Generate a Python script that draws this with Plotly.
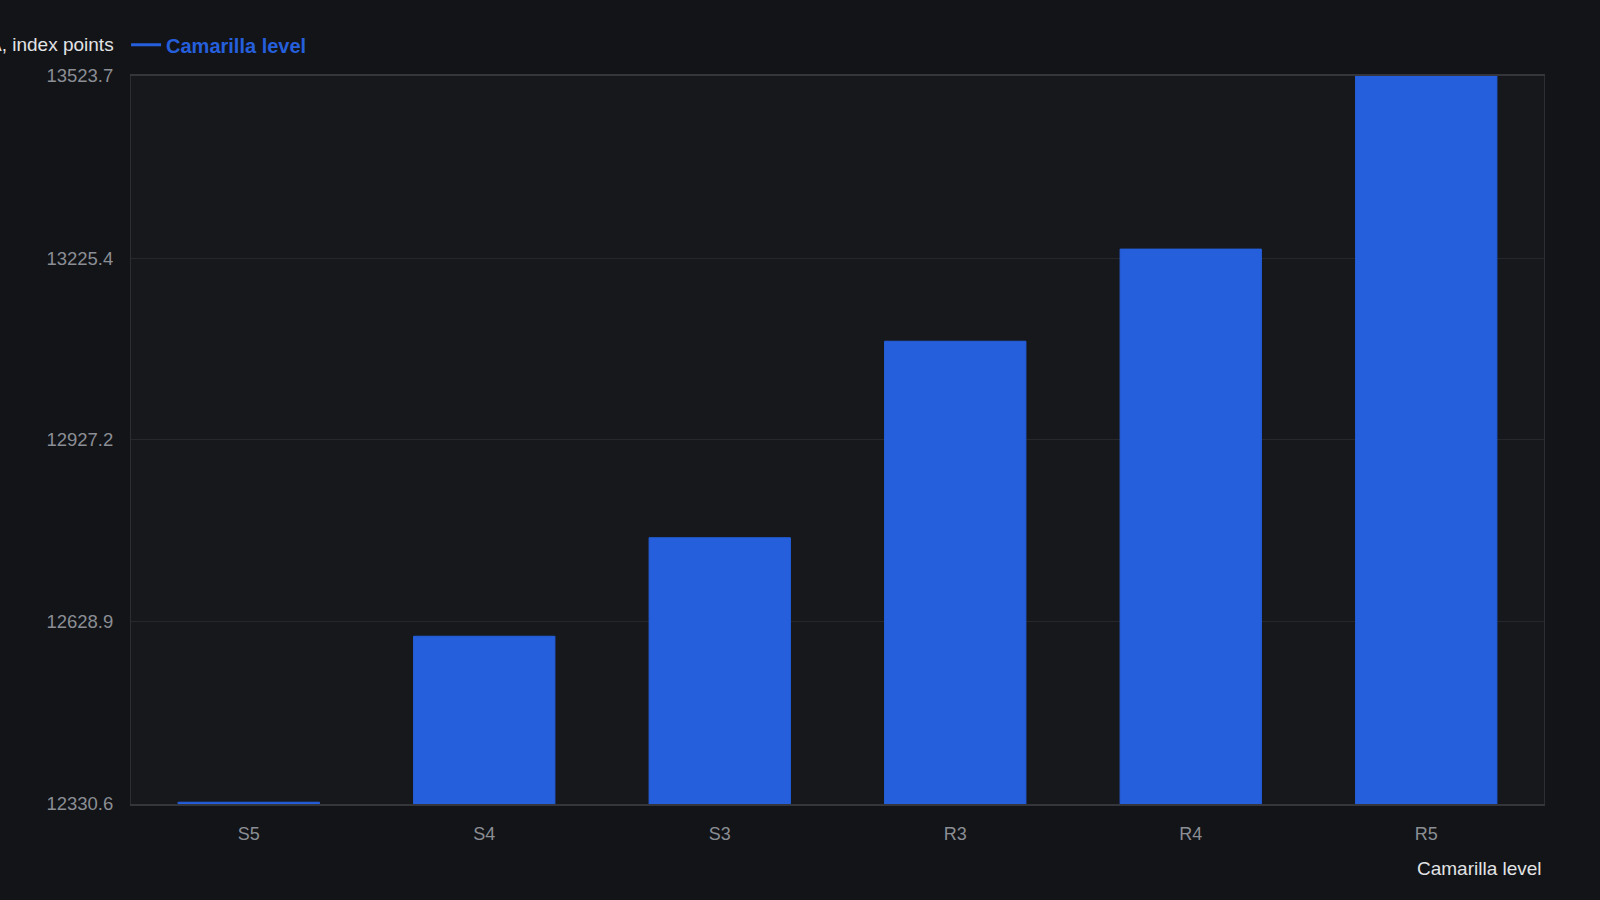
import plotly.graph_objects as go

categories = ["S5", "S4", "S3", "R3", "R4", "R5"]
values = [12333.5, 12605.5, 12767.0, 13089.0, 13240.0, 13523.7]
tick_vals = [12330.6, 12628.9, 12927.2, 13225.4, 13523.7]
tick_text = ["12330.6", "12628.9", "12927.2", "13225.4", "13523.7"]
series_name = "Camarilla level"
y_title = "Camarilla pivot levels, MSCI EMEA, index points"
x_title = "Camarilla level"

BLUE = "#255fdc"
FONT = "Liberation Sans, Arial, Helvetica, sans-serif"

fig = go.Figure()
fig.add_trace(go.Bar(
    x=categories, y=values,
    marker=dict(color=BLUE, line=dict(color=BLUE, width=1)),
    showlegend=False, width=0.6,
))
fig.add_trace(go.Scatter(
    x=[None], y=[None], mode="lines", name="<b>" + series_name + "</b>",
    line=dict(color=BLUE, width=3),
))

fig.update_layout(
    width=1600, height=900,
    paper_bgcolor="#121418",
    plot_bgcolor="#16181c",
    margin=dict(l=131, r=56, t=76, b=96),
    font=dict(family=FONT, size=18, color="#8b8e94"),
    showlegend=True,
    legend=dict(
        x=-0.0035, xanchor="left", y=1.016, yanchor="bottom",
        orientation="h", bgcolor="rgba(0,0,0,0)",
        font=dict(family=FONT, size=20, color=BLUE),
    ),
    bargap=0.4,
    xaxis=dict(
        showgrid=False, showline=True, linecolor="#34363b", linewidth=2,
        mirror=True, ticks="", ticklabelstandoff=12,
        tickfont=dict(size=18, color="#8b8e94"),
        zeroline=False,
    ),
    yaxis=dict(
        range=[12330.6, 13523.7], tickvals=tick_vals, ticktext=tick_text,
        showgrid=True, gridcolor="#26282d", gridwidth=1,
        showline=True, linecolor="#2c2e33", linewidth=1, mirror=True,
        ticks="", ticklabelstandoff=13,
        tickfont=dict(size=18.5, color="#8b8e94"), zeroline=False,
    ),
    annotations=[
        dict(text=y_title, xref="paper", yref="paper", x=-0.0104, y=1.0,
             xanchor="right", yanchor="bottom", yshift=19, showarrow=False,
             font=dict(family=FONT, size=19, color="#e2e3e5")),
        dict(text=x_title, xref="paper", yref="paper", x=1.0, y=0,
             xanchor="right", yanchor="top", yshift=-52, showarrow=False,
             font=dict(family=FONT, size=19, color="#e2e3e5")),
    ],
)

fig.write_html("out.html", config={"displayModeBar": False},
               post_script="document.body.style.margin='0';")
